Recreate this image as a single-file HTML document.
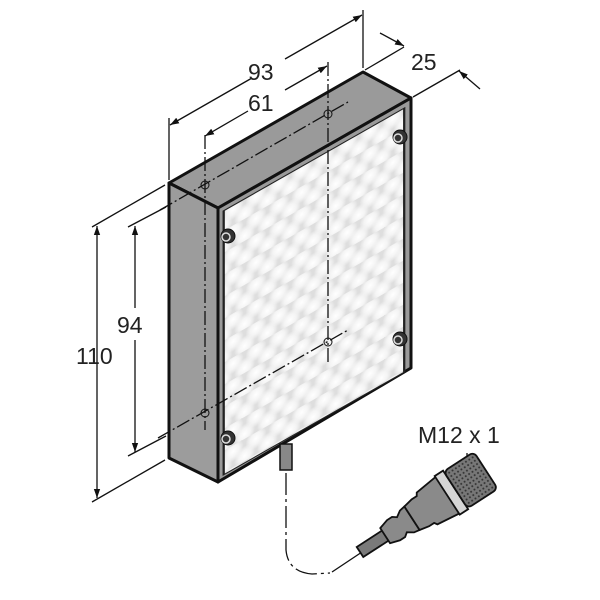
<!DOCTYPE html>
<html><head><meta charset="utf-8"><style>
html,body{margin:0;padding:0;background:#fff;width:600px;height:600px;overflow:hidden}
svg{display:block}
text{font-family:"Liberation Sans",sans-serif;fill:#222}
</style></head><body>
<svg width="600" height="600" viewBox="0 0 600 600" xmlns="http://www.w3.org/2000/svg">
<defs>
<radialGradient id="led" cx="50%" cy="50%" r="50%">
<stop offset="0" stop-color="#fff" stop-opacity="1"/>
<stop offset="0.55" stop-color="#fafafa" stop-opacity="0.8"/>
<stop offset="1" stop-color="#fff" stop-opacity="0"/>
</radialGradient>
<pattern id="leds" x="2" y="4" width="12" height="22" patternUnits="userSpaceOnUse">
<ellipse cx="6" cy="6" rx="5.5" ry="10" fill="url(#led)"/>
<ellipse cx="0" cy="17" rx="5.5" ry="10" fill="url(#led)"/>
<ellipse cx="12" cy="17" rx="5.5" ry="10" fill="url(#led)"/>
</pattern>
<pattern id="knurl" width="4" height="4" patternUnits="userSpaceOnUse">
<rect width="4" height="4" fill="#777"/>
<circle cx="2" cy="2" r="1" fill="#333"/>
</pattern>
<marker id="ar" viewBox="0 0 10 10" refX="10" refY="5" markerWidth="9" markerHeight="9" orient="auto-start-reverse" markerUnits="userSpaceOnUse">
<path d="M0,1.5 L10,5 L0,8.5 z" fill="#111"/>
</marker>
</defs>

<!-- box -->
<polygon points="169,183 363,72 411,98 218,208" fill="#9a9a9a" stroke="#111" stroke-width="3" stroke-linejoin="round"/>
<polygon points="169,183 218,208 218,482 169,458" fill="#9c9c9c" stroke="#111" stroke-width="3" stroke-linejoin="round"/>
<polygon points="218,208 411,98 411,368 218,482" fill="#9a9a9a" stroke="#111" stroke-width="3" stroke-linejoin="round"/>
<!-- LED area -->
<g transform="matrix(1.9,-1.08,0,1,218,208)">
<rect x="3" y="6" width="95" height="264" fill="#dedede"/>
<rect x="3" y="6" width="95" height="264" fill="url(#leds)"/>
<rect x="3" y="6" width="95" height="264" fill="none" stroke="#222" stroke-width="1.2"/>
</g>
<!-- screws -->
<g fill="#333" stroke="#111">
<circle cx="228" cy="236" r="7"/><circle cx="400" cy="137" r="7"/>
<circle cx="400" cy="339" r="7"/><circle cx="228" cy="438" r="7"/>
</g>
<g fill="none" stroke="#ddd" stroke-width="1.5"><circle cx="226" cy="237" r="4"/><circle cx="398" cy="138" r="4"/><circle cx="398" cy="340" r="4"/><circle cx="226" cy="439" r="4"/></g>

<!-- centre lines -->
<g stroke="#111" stroke-width="1.3" fill="none" stroke-dasharray="14,3,2,3">
<line x1="160" y1="210" x2="348" y2="102"/>
<line x1="158" y1="438" x2="348" y2="330"/>
<line x1="205" y1="135" x2="205" y2="430"/>
<line x1="328" y1="62" x2="328" y2="362"/>
</g>
<g stroke="#111" stroke-width="1" fill="none">
<circle cx="205" cy="185" r="4"/><circle cx="328" cy="114" r="4"/>
<circle cx="205" cy="413" r="4"/><circle cx="328" cy="342" r="4"/>
</g>

<!-- dimension lines -->
<g stroke="#111" stroke-width="1.3" fill="none">
<line x1="169" y1="180" x2="169" y2="118"/>
<line x1="363" y1="68" x2="363" y2="10"/>
<line x1="170" y1="125" x2="252" y2="78" marker-start="url(#ar)"/>
<line x1="285" y1="59" x2="362" y2="15" marker-end="url(#ar)"/>
<line x1="205" y1="136" x2="248" y2="111" marker-start="url(#ar)"/>
<line x1="285" y1="90" x2="327" y2="66" marker-end="url(#ar)"/>
<line x1="365" y1="70" x2="404" y2="47"/>
<line x1="413" y1="97" x2="460" y2="70"/>
<line x1="380" y1="33" x2="404" y2="46" marker-end="url(#ar)"/>
<line x1="480" y1="89" x2="459" y2="71" marker-end="url(#ar)"/>
<line x1="165" y1="185" x2="92" y2="227"/>
<line x1="165" y1="460" x2="92" y2="502"/>
<line x1="97" y1="226" x2="97" y2="498" marker-start="url(#ar)" marker-end="url(#ar)"/>
<line x1="166" y1="207" x2="128" y2="227"/>
<line x1="166" y1="436" x2="128" y2="456"/>
<line x1="135" y1="226" x2="135" y2="308" marker-start="url(#ar)"/>
<line x1="135" y1="340" x2="135" y2="452" marker-end="url(#ar)"/>
<line x1="467" y1="453" x2="467" y2="471"/>
</g>
<g font-size="23">
<text x="248" y="80">93</text>
<text x="248" y="111">61</text>
<text x="411" y="70">25</text>
<text x="76" y="364">110</text>
<text x="117" y="333">94</text>
<text x="418" y="443">M12 x 1</text>
</g>

<!-- cable stub -->
<rect x="280" y="444" width="12" height="26" fill="#888" stroke="#111" stroke-width="1.5"/>
<path d="M286,473 L286,550 Q288,572 312,574 L330,573" fill="none" stroke="#111" stroke-width="1.3" stroke-dasharray="22,4,3,4"/>
<line x1="332" y1="572" x2="362" y2="552" stroke="#111" stroke-width="1.3"/>

<!-- connector -->
<g transform="translate(360,552) rotate(-33)" stroke="#111" stroke-width="1.8">
<rect x="0" y="-6" width="32" height="12" fill="#7a7a7a"/>
<path d="M30,-9 L40,-12 L46,-12 L50,-9 L56,-13 L62,-14 L62,14 L56,13 L50,9 L46,12 L40,12 L30,9 z" fill="#8a8a8a"/>
<path d="M62,-14 L72,-16 L78,-16 L80,-19 L106,-22 L106,22 L80,19 L78,16 L72,16 L62,14 z" fill="#8a8a8a"/>
<rect x="104" y="-23" width="10" height="46" fill="#d6d6d6"/>
<rect x="114" y="-22" width="36" height="44" rx="5" fill="url(#knurl)"/>
</g>
</svg>
</body></html>
